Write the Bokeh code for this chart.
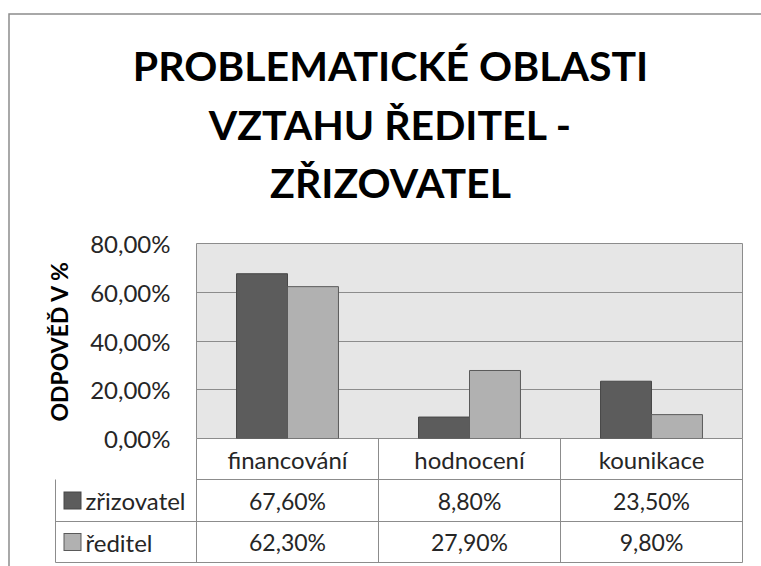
from bokeh.plotting import figure
from bokeh.models import FactorRange, Range1d, FixedTicker, ColumnDataSource
from bokeh.transform import dodge
from bokeh.core.properties import value
from bokeh.embed import file_html
from bokeh.resources import INLINE

# ---- data ----
categories = ["financování", "hodnocení", "kounikace"]
series_names = ["zřizovatel", "ředitel"]
zrizovatel = [67.6, 8.8, 23.5]
reditel = [62.3, 27.9, 9.8]
zrizovatel_labels = ["67,60%", "8,80%", "23,50%"]
reditel_labels = ["62,30%", "27,90%", "9,80%"]
tick_values = [0, 20, 40, 60, 80]
tick_labels = ["0,00%", "20,00%", "40,00%", "60,00%", "80,00%"]
title_lines = ["PROBLEMATICKÉ OBLASTI", "VZTAHU ŘEDITEL -", "ZŘIZOVATEL"]
y_label = "ODPOVĚĎ V %"

FONT = "Lato"
DARK = "#5c5c5c"
LIGHT = "#b1b1b1"
DARK_LINE = "#474747"
LIGHT_LINE = "#5a5a5a"
GRID = "#8c8c8c"
TXT = "#262626"

# frame placement (pixels)
FL, FR, FT, FB = 196, 742, 243, 438
W, H = 761, 566
p = figure(
    x_range=FactorRange(*categories, range_padding=0),
    y_range=Range1d(0, 80),
    width=W, height=H,
    min_border_left=FL, min_border_right=W - FR,
    min_border_top=FT, min_border_bottom=H - FB,
    output_backend="svg", toolbar_location=None,
)
p.background_fill_color = "#e6e6e6"
p.border_fill_color = "white"
p.outline_line_color = GRID
p.outline_line_width = 1

# pixel scale helpers (layout only)
px_per_unit = (FB - FT) / 80.0
cat_px = (FR - FL) / 3.0


def px_x(px):
    return (px - FL) / cat_px


def px_y(py):
    return (FB - py) / px_per_unit


src = ColumnDataSource(dict(cat=categories, z=zrizovatel, r=reditel))
p.vbar(x=dodge("cat", -0.14, range=p.x_range), top="z", width=0.28, source=src,
       fill_color=DARK, line_color=DARK_LINE, line_width=1)
p.vbar(x=dodge("cat", 0.14, range=p.x_range), top="r", width=0.28, source=src,
       fill_color=LIGHT, line_color=LIGHT_LINE, line_width=1)

# axes
p.xaxis.visible = False
p.xgrid.visible = False
p.ygrid.ticker = FixedTicker(ticks=tick_values)
p.ygrid.grid_line_color = GRID
p.ygrid.grid_line_width = 1
p.ygrid.level = "underlay"

ya = p.yaxis[0]
ya.ticker = FixedTicker(ticks=tick_values)
ya.major_label_overrides = {v: l for v, l in zip(tick_values, tick_labels)}
ya.axis_line_color = None
ya.major_tick_line_color = None
ya.minor_tick_line_color = None
ya.major_tick_out = 0
ya.major_tick_in = 0
ya.major_label_standoff = 26
ya.major_label_text_font = FONT
ya.major_label_text_font_size = "24px"
ya.major_label_text_color = TXT
ya.axis_label = y_label
ya.axis_label_text_font = FONT
ya.axis_label_text_font_style = "bold"
ya.axis_label_text_font_size = "23px"
ya.axis_label_text_color = "black"
ya.axis_label_standoff = 14

# ---- title (three lines) ----
title_y = [px_y(65 + 58.5 * i) for i in range(len(title_lines))]
p.text(x=[px_x(390)] * len(title_lines), y=title_y, text=title_lines,
       text_align="center", text_baseline="middle", text_font=value(FONT),
       text_font_style="bold", text_font_size="41px", text_color="black", level="overlay")

# ---- data table under plot ----
row_edges = [px_y(e) for e in [438, 479, 521, 562]]
leg_left = px_x(55)
n = len(categories)

hx0 = [0, leg_left, leg_left]
hx1 = [n, n, n]
hy = row_edges[1:]
p.segment(x0=hx0, y0=hy, x1=hx1, y1=hy, line_color=GRID, line_width=1, level="overlay")
vx = [leg_left, 0, 1, 2, 3]
vy0 = [row_edges[1]] + [row_edges[0]] * 4
vy1 = [row_edges[3]] * 5
p.segment(x0=vx, y0=vy0, x1=vx, y1=vy1, line_color=GRID, line_width=1, level="overlay")


def mid(a, b):
    return (a + b) / 2


cx = [i + 0.5 for i in range(n)]
p.text(x=cx, y=[mid(row_edges[0], row_edges[1])] * n, text=categories,
       text_align="center", text_baseline="middle", text_font=value(FONT),
       text_font_size="24px", text_color=TXT, level="overlay")
p.text(x=cx, y=[mid(row_edges[1], row_edges[2])] * n, text=zrizovatel_labels,
       text_align="center", text_baseline="middle", text_font=value(FONT),
       text_font_size="23px", text_color=TXT, level="overlay")
p.text(x=cx, y=[mid(row_edges[2], row_edges[3])] * n, text=reditel_labels,
       text_align="center", text_baseline="middle", text_font=value(FONT),
       text_font_size="23px", text_color=TXT, level="overlay")

# legend keys (square swatches drawn as short thick segments) + names
rows_y = [mid(row_edges[1], row_edges[2]), mid(row_edges[2], row_edges[3])]
k0, k1 = px_x(63), px_x(81)
ki0, ki1 = px_x(64), px_x(80)
p.segment(x0=[k0, k0], y0=rows_y, x1=[k1, k1], y1=rows_y, line_width=18,
          line_cap="butt", line_color=[DARK_LINE, LIGHT_LINE], level="overlay")
p.segment(x0=[ki0, ki0], y0=rows_y, x1=[ki1, ki1], y1=rows_y, line_width=16,
          line_cap="butt", line_color=[DARK, LIGHT], level="overlay")
p.text(x=[px_x(85)] * 2, y=rows_y, text=series_names, text_align="left",
       text_baseline="middle", text_font=value(FONT), text_font_size="24px",
       text_color=TXT, level="overlay")

# outer chart border (top and left edges) as a single open path inside the canvas
p.line(x=[px_x(W), px_x(8.5), px_x(8.5)], y=[px_y(13.5), px_y(13.5), px_y(H)],
       line_color="#8c8c8c", line_width=1.5, line_join="miter", level="overlay")

open("out.html", "w").write(file_html(p, INLINE))
